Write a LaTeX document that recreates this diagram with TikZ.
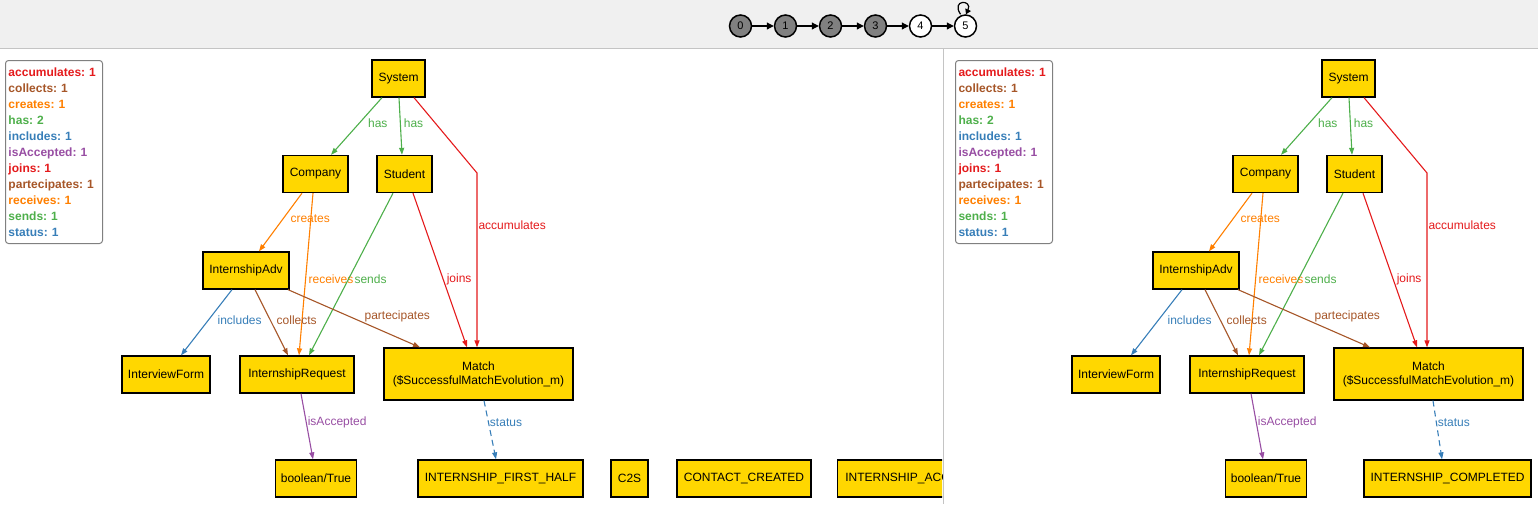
\documentclass[tikz,border=0pt]{standalone}
\usepackage{fontspec}
\setmainfont{Liberation Sans}
\usetikzlibrary{arrows.meta,positioning}
\definecolor{objgold}{HTML}{FFD700}
\definecolor{cred}{HTML}{E41A1C}
\definecolor{cbrown}{HTML}{A65628}
\definecolor{corange}{HTML}{FF7F00}
\definecolor{cgreen}{HTML}{4DAF4A}
\definecolor{cblue}{HTML}{377EB8}
\definecolor{cpurple}{HTML}{984EA3}
\definecolor{stepgray}{HTML}{808080}
\definecolor{bargray}{HTML}{F0F0F0}
\definecolor{rulegray}{HTML}{C4C4C4}
\frenchspacing
\begin{document}
\begin{tikzpicture}[x=1pt,y=-1pt,
    obj/.style={draw=black, fill=objgold, line width=1.3pt, minimum height=37pt,
      inner sep=2pt, align=center, font=\fontsize{12}{14}\selectfont},
    rel/.style={line width=1.1pt, -{Triangle[length=7pt,width=5pt]}},
    lbl/.style={inner sep=1pt, font=\fontsize{12}{14}\selectfont},
    legend/.style={draw=stepgray, line width=1pt, rounded corners=3pt, align=left,
      text width=91pt, inner xsep=3pt, minimum height=183pt,
      font=\bfseries\fontsize{12}{16}\selectfont},
    stepnode/.style={circle, draw=black, line width=1.5pt, minimum size=22pt,
      inner sep=0pt, font=\fontsize{11}{13}\selectfont},
    steparr/.style={line width=1.2pt, -{Triangle[length=7pt,width=7pt]}}]
  \useasboundingbox (0,0) rectangle (1538,504);
  % top bar with the steps
  \fill[bargray] (0,0) rectangle (1538,48);
  \draw[rulegray, line width=1pt] (0,48.5) -- (1538,48.5);
  \draw[rulegray, line width=1pt] (943,48.5) -- (943,504);
  \foreach \i/\c in {0/stepgray,1/stepgray,2/stepgray,3/stepgray,4/white,5/white}
    \node[stepnode, fill=\c] (s\i) at ({740.5+45*\i},26) {\i};
  \foreach \i [count=\j from 1] in {0,...,4}
    \draw[steparr] (s\i) -- (s\j);
  \draw[line width=1.2pt, -{Triangle[length=5pt,width=6pt]}] ([xshift=-5pt]s5.north) .. controls +(-10,-15) and +(7,-15) .. ([xshift=0.5pt]s5.north);
  % the two panels
  \foreach \p/\dx in {a/0,b/950}{
    \begin{scope}[xshift=\dx pt]
      % legend
      \node[legend, anchor=north west] (\p-leg) at (5,60) {%
        \textcolor{cred}{accumulates: 1}\\
        \textcolor{cbrown}{collects: 1}\\
        \textcolor{corange}{creates: 1}\\
        \textcolor{cgreen}{has: 2}\\
        \textcolor{cblue}{includes: 1}\\
        \textcolor{cpurple}{isAccepted: 1}\\
        \textcolor{cred}{joins: 1}\\
        \textcolor{cbrown}{partecipates: 1}\\
        \textcolor{corange}{receives: 1}\\
        \textcolor{cgreen}{sends: 1}\\
        \textcolor{cblue}{status: 1}};
      % objects
      \node[obj, minimum width=53pt] (\p-sys) at (398.5,78.5) {System};
      \node[obj, minimum width=65pt] (\p-comp) at (315.5,174) {Company};
      \node[obj, minimum width=55pt] (\p-stud) at (404.5,174) {Student};
      \node[obj, minimum width=86pt] (\p-adv) at (246,270.5) {InternshipAdv};
      \node[obj, minimum width=88pt] (\p-form) at (166,374.5) {InterviewForm};
      \node[obj, minimum width=114pt] (\p-req) at (297,374.5) {InternshipRequest};
      \node[obj, minimum width=189pt, minimum height=52pt] (\p-match) at (478.5,374) {Match\\(\$SuccessfulMatchEvolution\_m)};
      \node[obj, minimum width=81pt] (\p-bool) at (316,478.5) {boolean/True};
      \coordinate (\p-bend) at (477,173);
      % relations
      \draw[rel, cgreen] ([xshift=-16.5pt]\p-sys.south) -- node[lbl, pos=.44, right=7pt] {has} ([xshift=15.5pt]\p-comp.north);
      \draw[rel, cgreen] ([xshift=0.5pt]\p-sys.south) -- node[lbl, pos=.44, right=2pt] {has} ([xshift=-2.5pt]\p-stud.north);
      \draw[rel, cred] ([xshift=15.5pt]\p-sys.south) -- (\p-bend) -- node[lbl, pos=.3, right=0pt] {accumulates} ([xshift=-1.5pt]\p-match.north);
      \draw[rel, corange] ([xshift=-13.5pt]\p-comp.south) -- node[lbl, pos=.43, right=5.5pt] {creates} ([xshift=13pt]\p-adv.north);
      \draw[rel, corange] ([xshift=-2.5pt]\p-comp.south) -- node[lbl, pos=.53, right=1.5pt] {receives} ([xshift=2pt]\p-req.north);
      \draw[rel, cgreen] ([xshift=-11.5pt]\p-stud.south) -- node[lbl, pos=.53, right=4.5pt] {sends} ([xshift=12pt]\p-req.north);
      \draw[rel, cred] ([xshift=8.5pt]\p-stud.south) -- node[lbl, pos=.56, right=2pt] {joins} ([xshift=-11.5pt]\p-match.north);
      \draw[rel, cblue] ([xshift=-14pt]\p-adv.south) -- node[lbl, pos=.46, right=7.5pt] {includes} ([xshift=15pt]\p-form.north);
      \draw[rel, cbrown] ([xshift=9pt]\p-adv.south) -- node[lbl, pos=.46, right=5pt] {collects} ([xshift=-9pt]\p-req.north);
      \draw[rel, cbrown] ([xshift=42pt]\p-adv.south) -- node[lbl, pos=.47, right=13pt] {partecipates} ([xshift=-58.5pt]\p-match.north);
      \draw[rel, cpurple] ([xshift=4pt]\p-req.south) -- node[lbl, pos=.44, right=0pt] {isAccepted} ([xshift=-3pt]\p-bool.north);
    \end{scope}
  }
  % left panel values
  \begin{scope}
    \clip (0,49) rectangle (942,504);
    \node[obj, minimum width=165pt] (a-half) at (500.5,478.5) {INTERNSHIP\_FIRST\_HALF};
    \node[obj, minimum width=37pt] (a-c2s) at (629.5,478.5) {C2S};
    \node[obj, minimum width=134pt] (a-contact) at (744,478.5) {CONTACT\_CREATED};
    \node[obj, minimum width=160pt, anchor=west] (a-acc) at (837,478.5) {INTERNSHIP\_ACCEPTED};
  \end{scope}
  \draw[rel, cblue, dash pattern=on 6pt off 4pt] ([xshift=5.5pt]a-match.south) -- node[lbl, pos=.37, right=0pt] {status} ([xshift=-4.5pt]a-half.north);
  % right panel value
  \node[obj, minimum width=167pt] (b-done) at (1447.5,478.5) {INTERNSHIP\_COMPLETED};
  \draw[rel, cblue, dash pattern=on 6pt off 4pt] ([xshift=4.5pt]b-match.south) -- node[lbl, pos=.37, right=0pt] {status} ([xshift=-5.5pt]b-done.north);
\end{tikzpicture}
\end{document}
